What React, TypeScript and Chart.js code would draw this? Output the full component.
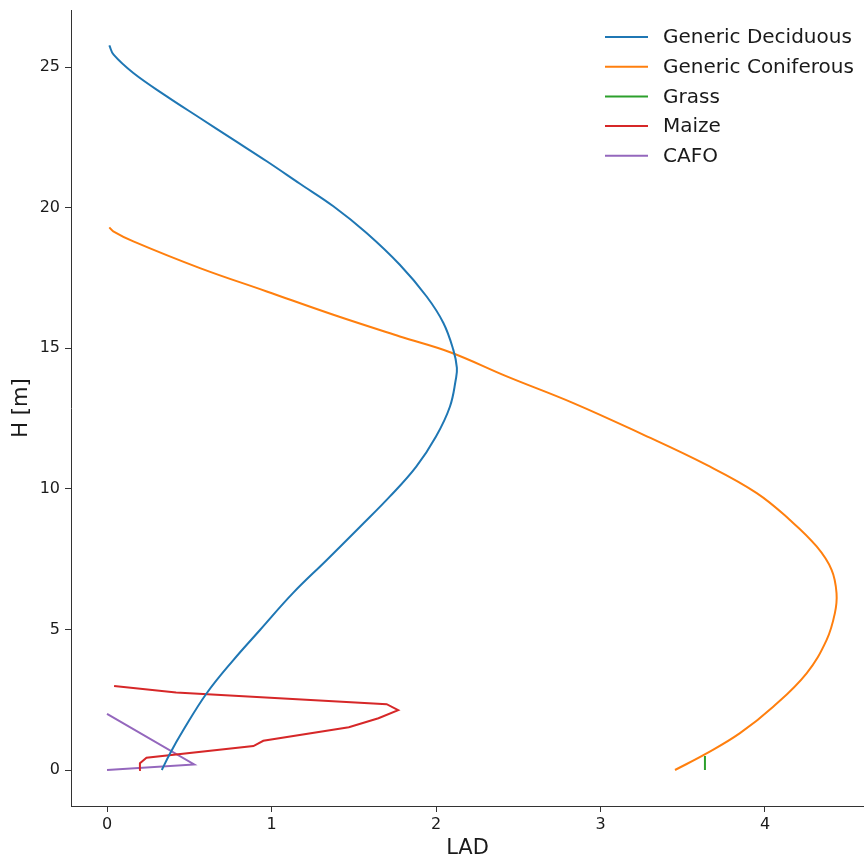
import React, { useEffect, useRef } from "react";
import { Chart, registerables } from "chart.js";

Chart.register(...registerables);

// ---- Data ----
const seriesNames = ["Generic Deciduous", "Generic Coniferous", "Grass", "Maize", "CAFO"];
const seriesColors = ["#1f77b4", "#ff7f0e", "#2ca02c", "#d62728", "#9467bd"];

const deciduousH = [0, 0.59, 1.42, 2.73, 3.91, 4.98, 6.29, 7.47, 8.66, 9.73, 10.79, 11.86, 12.93, 13.88, 14.3, 14.95, 15.9, 16.84, 17.97, 19.1, 20.05, 20.85, 21.65, 22.42, 23.19, 23.96, 24.79, 25.44, 25.77];
const deciduousLAD = [0.333, 0.383, 0.464, 0.606, 0.768, 0.93, 1.13, 1.336, 1.54, 1.72, 1.88, 2.0, 2.085, 2.12, 2.127, 2.105, 2.045, 1.943, 1.78, 1.578, 1.376, 1.173, 0.971, 0.768, 0.565, 0.363, 0.16, 0.04, 0.014];

const coniferousH = [0, 0.59, 1.31, 2.25, 3.44, 4.63, 5.58, 6.29, 7.12, 7.95, 8.9, 9.85, 10.85, 11.98, 13.05, 14.0, 14.85, 15.42, 16.19, 17.02, 17.85, 18.8, 19.16, 19.3];
const coniferousLAD = [3.453, 3.645, 3.848, 4.05, 4.253, 4.375, 4.425, 4.435, 4.405, 4.314, 4.15, 3.95, 3.645, 3.24, 2.835, 2.43, 2.09, 1.78, 1.376, 0.971, 0.565, 0.16, 0.038, 0.014];

const grassH = [0, 0.5];
const grassLAD = [3.635, 3.635];

const maizeH = [0, 0.24, 0.44, 0.85, 1.04, 1.52, 1.84, 2.13, 2.34, 2.76, 2.99];
const maizeLAD = [0.195, 0.2, 0.24, 0.89, 0.95, 1.47, 1.65, 1.77, 1.7, 0.42, 0.043];

const cafoH = [0, 0.2, 2.0];
const cafoLAD = [0, 0.53, 0];

const xTickValues = [0, 1, 2, 3, 4];
const yTickValues = [0, 5, 10, 15, 20, 25];

const xLabel = "LAD";
const yLabel = "H [m]";

const FONT = "'DejaVu Sans', sans-serif";

function zip(lad: number[], h: number[]) {
  return lad.map((x, i) => ({ x, y: h[i] }));
}

const legendPlugin = {
  id: "customLegend",
  afterDraw(chart: any) {
    const ctx = chart.ctx;
    ctx.save();
    const x0 = 605;
    const x1 = 648;
    const tx = 663;
    const y0 = 37;
    const dy = 29.7;
    ctx.font = `20px ${FONT}`;
    ctx.textBaseline = "middle";
    ctx.textAlign = "left";
    chart.data.datasets.forEach((ds: any, i: number) => {
      const y = y0 + i * dy;
      ctx.strokeStyle = ds.borderColor;
      ctx.lineWidth = 2;
      ctx.beginPath();
      ctx.moveTo(x0, y);
      ctx.lineTo(x1, y);
      ctx.stroke();
      ctx.fillStyle = "#1a1a1a";
      ctx.fillText(ds.label, tx, y + 1);
    });
    ctx.restore();
  },
};

export default function App() {
  const ref = useRef<HTMLCanvasElement | null>(null);

  useEffect(() => {
    if (!ref.current) return;
    const allLAD = [deciduousLAD, coniferousLAD, grassLAD, maizeLAD, cafoLAD];
    const allH = [deciduousH, coniferousH, grassH, maizeH, cafoH];
    const tensions = [0.4, 0.4, 0, 0, 0];
    const chart = new Chart(ref.current, {
      type: "scatter",
      data: {
        datasets: seriesNames.map((name, i) => ({
          label: name,
          data: zip(allLAD[i], allH[i]),
          showLine: true,
          borderColor: seriesColors[i],
          backgroundColor: seriesColors[i],
          borderWidth: 2,
          pointRadius: 0,
          pointHoverRadius: 0,
          tension: tensions[i],
          fill: false,
        })),
      },
      options: {
        animation: false,
        responsive: true,
        maintainAspectRatio: false,
        layout: { padding: { top: 10, right: 0, left: 0, bottom: 0 } },
        plugins: {
          legend: { display: false },
          tooltip: { enabled: false },
        },
        scales: {
          x: {
            type: "linear",
            min: -0.219,
            max: 4.602,
            afterFit: (s: any) => {
              s.height = 55;
              s.paddingLeft = 0;
              s.paddingRight = 0;
            },
            afterBuildTicks: (s: any) => {
              s.ticks = xTickValues.map((v) => ({ value: v }));
            },
            grid: { display: true, drawOnChartArea: false, drawTicks: true, tickLength: 6, color: "#333" },
            border: { display: true, color: "#333", width: 1 },
            ticks: { font: { family: FONT, size: 16 }, color: "#1a1a1a", padding: 3, maxRotation: 0 },
            title: {
              display: true,
              text: xLabel,
              font: { family: FONT, size: 21 },
              color: "#1a1a1a",
              padding: { top: 0, bottom: 0 },
            },
          },
          y: {
            type: "linear",
            min: -1.28,
            max: 27.03,
            afterFit: (s: any) => {
              s.width = 71;
              s.paddingTop = 0;
              s.paddingBottom = 0;
            },
            afterBuildTicks: (s: any) => {
              s.ticks = yTickValues.map((v) => ({ value: v }));
            },
            grid: { display: true, drawOnChartArea: false, drawTicks: true, tickLength: 6, color: "#333" },
            border: { display: true, color: "#333", width: 1 },
            ticks: { font: { family: FONT, size: 16 }, color: "#1a1a1a", padding: 5 },
            title: {
              display: true,
              text: yLabel,
              font: { family: FONT, size: 21 },
              color: "#1a1a1a",
              padding: { top: 9, bottom: 0 },
            },
          },
        },
      },
      plugins: [legendPlugin],
    });
    return () => chart.destroy();
  }, []);

  return (
    <div style={{ position: "fixed", left: 0, top: 0, width: 864, height: 861, background: "#fff" }}>
      <canvas ref={ref} />
    </div>
  );
}
